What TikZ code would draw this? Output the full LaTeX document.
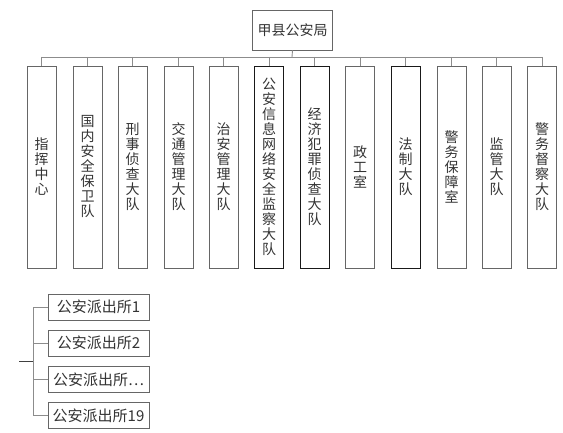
\documentclass[tikz,border=0pt]{standalone}
\usepackage{fontspec}
\setmainfont{Noto Sans CJK SC}
\begin{document}
\begin{tikzpicture}[x=1pt,y=-1pt,
  conn/.style={draw=black!45,line width=0.9pt},
  colbox/.style={draw=black!60,line width=0.9pt,minimum width=29pt,minimum height=202pt,inner sep=0pt,align=center,font=\fontsize{14}{15}\selectfont,text=black!80},
  darkbox/.style={colbox,draw=black!90},
  topbox/.style={draw=black!60,line width=0.9pt,minimum width=80pt,minimum height=40pt,inner sep=0pt,font=\fontsize{14}{16}\selectfont,text=black!80},
  stbox/.style={draw=black!60,line width=0.9pt,minimum width=101pt,minimum height=26pt,inner sep=0pt,font=\fontsize{15}{16}\selectfont,text=black!80}]
\useasboundingbox (0,0) rectangle (563,433);
\node[topbox] (top) at (292.5,30) {甲县公安局};
\coordinate (busL) at (42,57);
\coordinate (busR) at (542,57);
\coordinate (busM) at (292,57);
\node[colbox]  (c1)  at (41.5,167) {指\\挥\\中\\心};
\node[colbox]  (c2)  at (87.5,167) {国\\内\\安\\全\\保\\卫\\队};
\node[colbox]  (c3)  at (132.5,167) {刑\\事\\侦\\查\\大\\队};
\node[colbox]  (c4)  at (178.5,167) {交\\通\\管\\理\\大\\队};
\node[colbox]  (c5)  at (223.5,167) {治\\安\\管\\理\\大\\队};
\node[darkbox] (c6)  at (269,167) {公\\安\\信\\息\\网\\络\\安\\全\\监\\察\\大\\队};
\node[darkbox] (c7)  at (314.5,167) {经\\济\\犯\\罪\\侦\\查\\大\\队};
\node[colbox]  (c8)  at (360,167) {政\\工\\室};
\node[darkbox] (c9)  at (405.5,167) {法\\制\\大\\队};
\node[colbox]  (c10) at (451.5,167) {警\\务\\保\\障\\室};
\node[colbox]  (c11) at (496.5,167) {监\\管\\大\\队};
\node[colbox]  (c12) at (542,167) {警\\务\\督\\察\\大\\队};
\draw[conn] (top.south) -- (busM);
\draw[conn] (busL) -- (busR);
\foreach \i in {1,...,12} {\draw[conn] (c\i.north |- busL) -- (c\i.north);}
\node[stbox] (p1) at (98.5,307) {公安派出所1};
\node[stbox] (p2) at (98.5,343) {公安派出所2};
\node[stbox] (p3) at (98.5,379.5) {公安派出所⋯};
\node[stbox] (p4) at (98.5,415.5) {公安派出所19};
\coordinate (vt) at (33,307);
\coordinate (vb) at (33,415.5);
\coordinate (stubL) at (19,361);
\coordinate (stubR) at (33,361);
\draw[conn] (p1.west) -- (vt) -- (vb) -- (p4.west);
\draw[conn] (p2.west) -- (p2.west -| vt);
\draw[conn] (p3.west) -- (p3.west -| vt);
\draw[conn,draw=black!75] (stubL) -- (stubR);
\end{tikzpicture}
\end{document}
